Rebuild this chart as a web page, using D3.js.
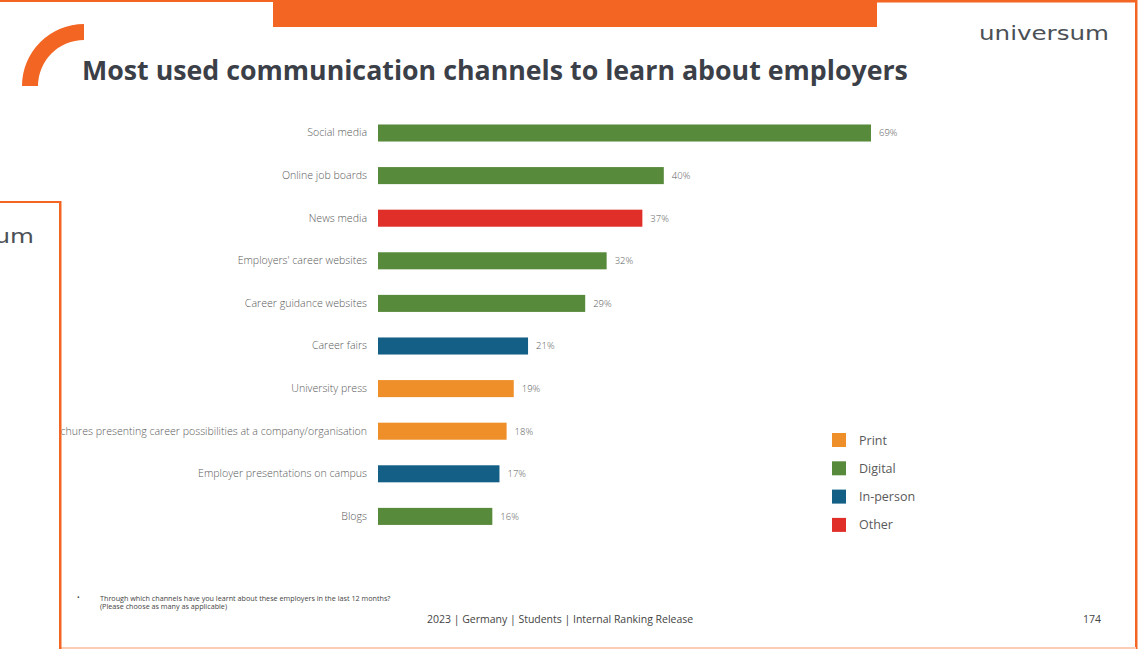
<!DOCTYPE html>
<html>
<head>
<meta charset="utf-8">
<script src="https://cdn.jsdelivr.net/npm/d3@7"></script>
<style>
  html, body { margin: 0; padding: 0; background: #ffffff; }
  svg { display: block; }
</style>
</head>
<body>
<script>
// Survey results: share of students naming each channel
const categories = [
  "Social media",
  "Online job boards",
  "News media",
  "Employers' career websites",
  "Career guidance websites",
  "Career fairs",
  "University press",
  "Brochures presenting career possibilities at a company/organisation",
  "Employer presentations on campus",
  "Blogs"
];
const values = [69, 40, 37, 32, 29, 21, 19, 18, 17, 16];
const channelTypes = ["Digital", "Digital", "Other", "Digital", "Digital", "In-person", "Print", "Print", "In-person", "Digital"];

const legendLabels = ["Print", "Digital", "In-person", "Other"];
const legendColors = ["#ef8f2a", "#578a3a", "#135f85", "#e02e28"];

const titleText = "Most used communication channels to learn about employers";
const questionLines = [
  "Through  which channels have you learnt about these employers in the last 12 months?",
  "(Please choose as many as applicable)"
];
const footerText = "2023 | Germany | Students | Internal Ranking Release";
const pageNumber = "174";
const brandText = "universum";
const brandTail = "um";

const W = 1141, H = 649;
const ORANGE = "#f36523";
const TEXT = "#5a5a5a";

const svg = d3.select("body").append("svg")
  .attr("width", W).attr("height", H);

const colorScale = d3.scaleOrdinal().domain(legendLabels).range(legendColors);

// Shrink a text node's font until it spans the wanted width
function fitWidth(sel, target) {
  let fs = parseFloat(sel.attr("font-size"));
  for (let i = 0; i < 6; i++) {
    const w = sel.node().getComputedTextLength();
    fs = fs * target / w;
    sel.attr("font-size", fs);
  }
}

// ---- slide frame ----
svg.append("rect").attr("x", 0).attr("y", 0).attr("width", 274).attr("height", 2).attr("fill", ORANGE);
svg.append("rect").attr("x", 273).attr("y", 0).attr("width", 604).attr("height", 27).attr("fill", ORANGE);
svg.append("rect").attr("x", 877).attr("y", 0).attr("width", 260).attr("height", 2.5).attr("fill", ORANGE);
svg.append("rect").attr("x", 1135).attr("y", 0).attr("width", 2.5).attr("height", H).attr("fill", ORANGE);
svg.append("rect").attr("x", 60).attr("y", 647).attr("width", 1076).attr("height", 2).attr("fill", "#fbcdb4");

// corner arc mark
svg.append("path")
  .attr("transform", "translate(84,86)")
  .attr("d", d3.arc()({ innerRadius: 46, outerRadius: 62, startAngle: -Math.PI / 2, endAngle: 0 }))
  .attr("fill", ORANGE);

// title
const title = svg.append("text")
  .attr("x", 82).attr("y", 80)
  .attr("font-family", "'Open Sans', sans-serif")
  .attr("font-weight", 700)
  .attr("font-size", 26)
  .attr("fill", "#3b4048")
  .text(titleText);
fitWidth(title, 826);

// brand wordmark
const brandStyle = s => s
  .attr("font-family", "'DejaVu Sans', sans-serif")
  .attr("font-size", 20)
  .attr("fill", "#4b5057")
  .attr("lengthAdjust", "spacingAndGlyphs");
const brand = svg.append("text")
  .attr("x", 979).attr("y", 40)
  .call(brandStyle)
  .text(brandText);
const brandNatural = brand.node().getComputedTextLength();
brand.attr("textLength", 130);

// ---- bar chart ----
const x = d3.scaleLinear().domain([0, 69]).range([378, 871]);
const y = d3.scaleBand().domain(categories).range([111.7, 537.7]).paddingInner(0.6).paddingOuter(0.3);

const rows = categories.map((c, i) => ({ cat: c, v: values[i], type: channelTypes[i] }));

svg.append("g").selectAll("rect").data(rows).join("rect")
  .attr("x", x(0))
  .attr("y", d => y(d.cat))
  .attr("width", d => x(d.v) - x(0))
  .attr("height", y.bandwidth())
  .attr("fill", d => colorScale(d.type));

// category labels via a left axis without line/ticks
const yAxis = svg.append("g")
  .attr("transform", `translate(${x(0)},0)`)
  .call(d3.axisLeft(y).tickSize(0).tickPadding(11));
yAxis.select(".domain").remove();
yAxis.selectAll("text")
  .attr("font-family", "'Open Sans', sans-serif")
  .attr("font-size", 10.6)
  .attr("font-weight", 300)
  .attr("fill", TEXT);

// value labels
svg.append("g").selectAll("text").data(rows).join("text")
  .attr("x", d => x(d.v) + 8)
  .attr("y", d => y(d.cat) + y.bandwidth() / 2)
  .attr("dy", "0.35em")
  .attr("font-family", "'Open Sans', sans-serif")
  .attr("font-size", 9.5)
  .attr("font-weight", 300)
  .attr("fill", TEXT)
  .text(d => d.v + "%");

// legend
const legend = svg.append("g").attr("transform", "translate(832,433)");
const items = legend.selectAll("g").data(legendLabels).join("g")
  .attr("transform", (d, i) => `translate(0,${i * 28.3})`);
items.append("rect").attr("width", 14).attr("height", 14).attr("fill", d => colorScale(d));
items.append("text")
  .attr("x", 27).attr("y", 7).attr("dy", "0.36em")
  .attr("font-family", "'Open Sans', sans-serif")
  .attr("font-size", 12.5)
  .attr("fill", TEXT)
  .text(d => d);

// question footnote
svg.append("text").attr("x", 77).attr("y", 600)
  .attr("font-family", "'Open Sans', sans-serif").attr("font-size", 7).attr("fill", "#444")
  .text("•");
const qLines = svg.append("g").selectAll("text").data(questionLines).join("text")
  .attr("x", 100).attr("y", (d, i) => 601 + i * 8)
  .attr("font-family", "'Open Sans', sans-serif")
  .attr("font-size", 6)
  .attr("fill", "#444")
  .text(d => d);
fitWidth(d3.select(qLines.nodes()[0]), 290);
d3.select(qLines.nodes()[1]).attr("font-size", d3.select(qLines.nodes()[0]).attr("font-size"));

// footer
const footer = svg.append("text")
  .attr("x", 427).attr("y", 623)
  .attr("font-family", "'Open Sans', sans-serif")
  .attr("font-size", 11)
  .attr("fill", "#444")
  .text(footerText);
fitWidth(footer, 266);
svg.append("text")
  .attr("x", 1101).attr("y", 623).attr("text-anchor", "end")
  .attr("font-family", "'Open Sans', sans-serif")
  .attr("font-size", 10.5)
  .attr("fill", "#444")
  .text(pageNumber);

// ---- overlapping slide panel on the left ----
const panel = svg.append("g");
panel.append("rect").attr("x", 0).attr("y", 202).attr("width", 60).attr("height", H - 202).attr("fill", "#ffffff");
const tail = panel.append("text")
  .attr("x", 34).attr("y", 243).attr("text-anchor", "end")
  .call(brandStyle)
  .text(brandTail);
tail.attr("textLength", 130 * tail.node().getComputedTextLength() / brandNatural);
panel.append("rect").attr("x", 0).attr("y", 201).attr("width", 61).attr("height", 2).attr("fill", ORANGE);
panel.append("rect").attr("x", 59).attr("y", 201).attr("width", 2.5).attr("height", H - 201).attr("fill", ORANGE);
</script>
</body>
</html>
